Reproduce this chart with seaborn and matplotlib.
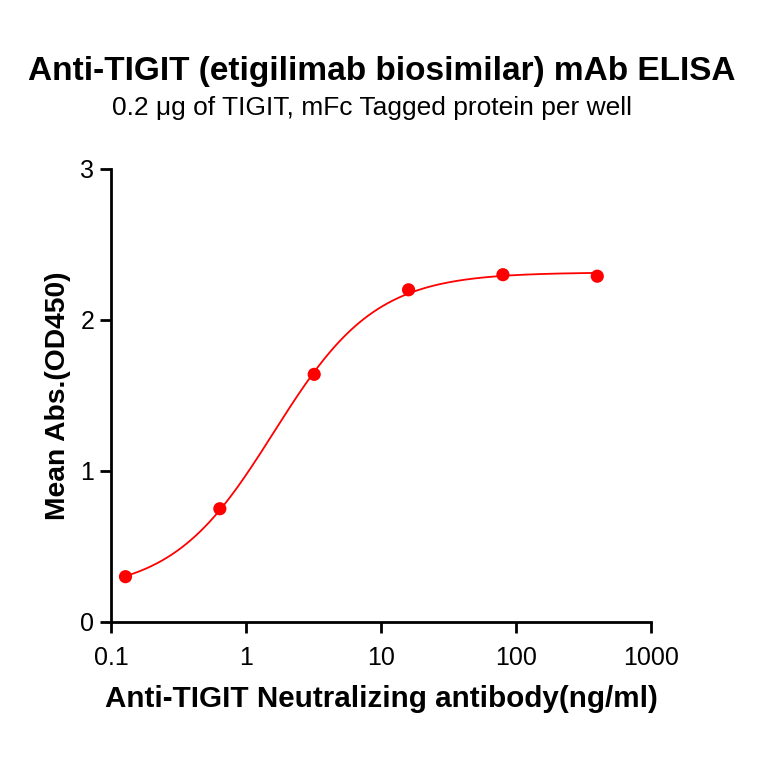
import numpy as np
import pandas as pd
import matplotlib
matplotlib.use('Agg')
import matplotlib.pyplot as plt
import seaborn as sns

# data
conc = [0.128, 0.64, 3.2, 16, 80, 400]
od450 = [0.30, 0.75, 1.64, 2.20, 2.30, 2.29]
x_ticks = [0.1, 1, 10, 100, 1000]
y_ticks = [0, 1, 2, 3]

df = pd.DataFrame({'conc': conc, 'od': od450})

# 4PL fit: grid over EC50 / hill, bottom and top by linear least squares
x = np.array(conc)
y = np.array(od450)
best = None
for ec50 in np.logspace(-0.5, 1, 150):
    for hill in np.linspace(0.5, 3, 120):
        f = x**hill / (x**hill + ec50**hill)
        A = np.column_stack([1 - f, f])
        coef, res, _, _ = np.linalg.lstsq(A, y, rcond=None)
        err = np.sum((A @ coef - y) ** 2)
        if best is None or err < best[0]:
            best = (err, ec50, hill, coef[0], coef[1])
_, ec50, hill, bottom, top = best
xs = np.logspace(np.log10(min(conc)), np.log10(max(conc)), 300)
fit = pd.DataFrame({'conc': xs,
                    'od': bottom + (top - bottom) * xs**hill / (xs**hill + ec50**hill)})

sns.set_style('ticks')
plt.rcParams['font.family'] = ['Liberation Sans', 'DejaVu Sans']
plt.rcParams['text.color'] = 'black'
plt.rcParams['axes.labelcolor'] = 'black'
plt.rcParams['xtick.color'] = 'black'
plt.rcParams['ytick.color'] = 'black'

fig = plt.figure(figsize=(7.64, 7.64), dpi=100)
ax = fig.add_axes([0.1453, 0.1859, 0.7068, 0.5929])

sns.lineplot(data=fit, x='conc', y='od', color='#ff0000', linewidth=1.3, ax=ax)
sns.scatterplot(data=df, x='conc', y='od', color='#ff0000', s=90, edgecolor='none', zorder=5, ax=ax)

ax.set_xscale('log')
ax.set_xlim(0.1, 1000)
ax.set_ylim(0, 3)
ax.set_xticks(x_ticks)
ax.set_xticklabels(['0.1', '1', '10', '100', '1000'])
ax.minorticks_off()
ax.set_yticks(y_ticks)
ax.tick_params(axis='both', direction='out', length=8, width=2, labelsize=18, color='black')
ax.tick_params(axis='x', pad=9)
ax.tick_params(axis='y', pad=4)
for s in ['left', 'bottom']:
    ax.spines[s].set_linewidth(2)
    ax.spines[s].set_color('black')
sns.despine(ax=ax)

ax.set_xlabel('Anti-TIGIT Neutralizing antibody(ng/ml)', fontsize=21.3, fontweight='bold', labelpad=11)
ax.set_ylabel('Mean Abs.(OD450)', fontsize=20.3, fontweight='bold', labelpad=7)

fig.text(0.5, 0.906, 'Anti-TIGIT (etigilimab biosimilar) mAb ELISA', ha='center', va='center',
         fontsize=24, fontweight='bold')
fig.text(0.487, 0.859, '0.2 \u03bcg of TIGIT, mFc Tagged protein per well', ha='center', va='center',
         fontsize=19)

fig.savefig('out.png', dpi=100)
